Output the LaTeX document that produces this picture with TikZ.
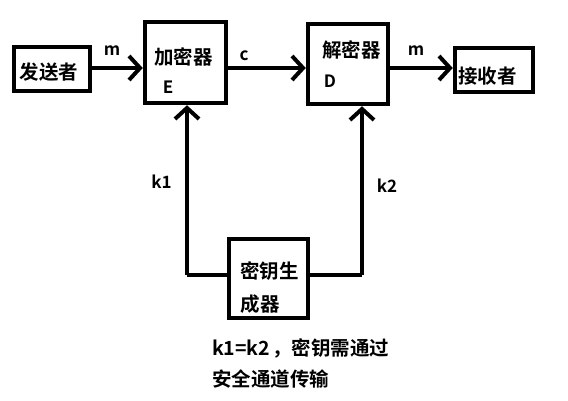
\documentclass[tikz,border=0pt]{standalone}
\usepackage{fontspec}
\setmainfont{Noto Sans CJK SC Bold}
\usetikzlibrary{arrows.meta}
\begin{document}
\begin{tikzpicture}[x=1pt,y=-1pt,
  box/.style={draw,line width=4.5pt,inner sep=0pt},
  conn/.style={line width=4pt,-{Straight Barb[length=11pt,width=24pt,line width=4pt]}},
  line/.style={line width=4pt},
  cjk/.style={font=\fontsize{19.5}{19.5}\selectfont,inner sep=0pt},
  lat/.style={font=\fontsize{17}{17}\selectfont,inner sep=0pt,anchor=base}]
\useasboundingbox[fill=white] (0,0) rectangle (568,400);
% boxes
\node[box,minimum width=76pt,minimum height=44pt] (send) at (52,69) {};
\node[box,minimum width=81pt,minimum height=81pt] (enc) at (185.5,62.5) {};
\node[box,minimum width=80pt,minimum height=80pt] (dec) at (348,64) {};
\node[box,minimum width=78pt,minimum height=44pt] (recv) at (494,70) {};
\node[box,minimum width=79pt,minimum height=79pt] (key) at (268.5,278.5) {};
% texts
\node[cjk] (tsend) at (49,72) {发送者};
\node[cjk] (trecv) at (487.5,76) {接收者};
\node[cjk] (tenc) at (183.5,57) {加密器};
\node[lat] (tE) at (168,93) {E};
\node[cjk] (tdec) at (351.5,50) {解密器};
\node[lat] (tD) at (330,87) {D};
\node[cjk] (tkey1) at (269.5,271.5) {密钥生};
\node[cjk] (tkey2) at (260,304) {成器};
\node[lat] (lm1) at (112,55) {m};
\node[lat] (lc) at (244,60) {c};
\node[lat] (lm2) at (416,55) {m};
\node[lat] (lk1) at (161.5,188) {k1};
\node[lat] (lk2) at (387,192) {k2};
\node[cjk,anchor=west] (note1) at (212,348.5) {k1=k2\kern2pt，密钥需通过};
\node[cjk,anchor=west] (note2) at (212,379) {安全通道传输};
% connectors
\coordinate (ay) at (0,68);
\draw[conn] (send.east |- ay) -- (enc.west |- ay);
\draw[conn] (enc.east |- ay) -- (dec.west |- ay);
\draw[conn] (dec.east |- ay) -- (recv.west |- ay);
\coordinate (kl) at (187,275);
\coordinate (kr) at (362,275);
\draw[line] (key.west |- kl) -- (kl);
\draw[conn] (kl) -- (kl |- enc.south);
\draw[line] (key.east |- kr) -- (kr);
\draw[conn] (kr) -- (kr |- dec.south);
\end{tikzpicture}
\end{document}
